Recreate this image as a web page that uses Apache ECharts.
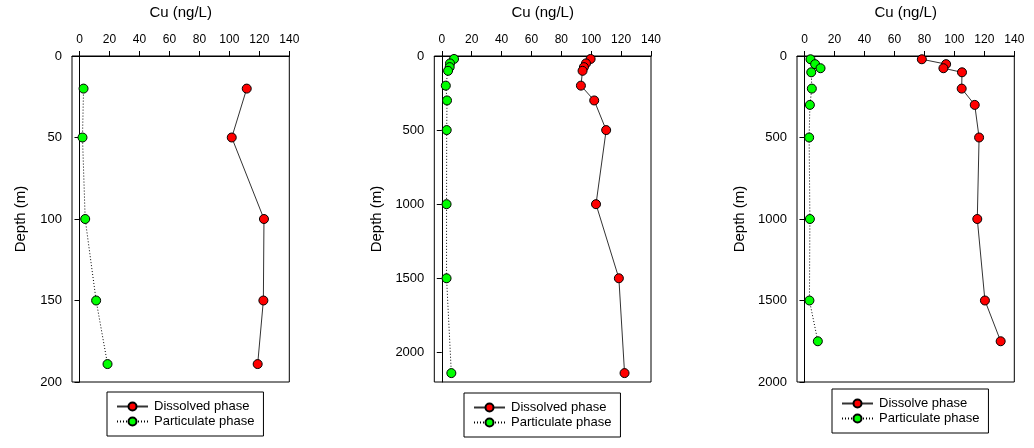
<!DOCTYPE html>
<html>
<head>
<meta charset="utf-8">
<script src="https://cdn.jsdelivr.net/npm/echarts@6/dist/echarts.min.js"></script>
<style>
html,body{margin:0;padding:0;background:#fff;}
#chart{width:1034px;height:448px;}
</style>
</head>
<body>
<div id="chart"></div>
<script>
// ---- Data ----
const xTickValues = [0, 20, 40, 60, 80, 100, 120, 140];
const xAxisTitle = 'Cu (ng/L)';
const yAxisTitle = 'Depth (m)';

// Panel 1
const depth1 = [20, 50, 100, 150, 189];
const dissolved1 = [111.6, 101.6, 123.1, 122.7, 118.9];
const particulate1 = [2.7, 2.0, 3.8, 11.1, 18.7];
const yTicks1 = [0, 50, 100, 150, 200];
const legend1 = ['Dissolved phase', 'Particulate phase'];

// Panel 2
const depth2 = [20, 50, 75, 100, 200, 300, 500, 1000, 1500, 2140];
const dissolved2 = [99.6, 96.5, 95.1, 94.2, 93.1, 102.0, 110.0, 103.2, 118.5, 122.3];
const particulate2 = [8.2, 5.5, 5.3, 4.2, 2.7, 3.5, 3.3, 3.2, 3.2, 6.4];
const yTicks2 = [0, 500, 1000, 1500, 2000];
const legend2 = ['Dissolved phase', 'Particulate phase'];

// Panel 3
const depth3 = [20, 50, 75, 100, 200, 300, 500, 1000, 1500, 1750];
const dissolved3 = [78.3, 94.5, 92.7, 105.1, 104.9, 113.6, 116.5, 115.3, 120.4, 130.9];
const particulate3 = [4.0, 7.1, 10.7, 4.5, 4.9, 3.6, 3.1, 3.6, 3.3, 8.9];
const yTicks3 = [0, 500, 1000, 1500, 2000];
const legend3 = ['Dissolve phase', 'Particulate phase'];

// ---- Layout / style ----
const FONT = "'Liberation Sans', Arial, sans-serif";
const panels = [
  {depth: depth1, dis: dissolved1, par: particulate1, yTicks: yTicks1, yMax: 200, names: legend1,
   grid: {left: 72, top: 56, width: 217.3, height: 326}, legend: {left: 107, top: 392}},
  {depth: depth2, dis: dissolved2, par: particulate2, yTicks: yTicks2, yMax: 2200, names: legend2,
   grid: {left: 434.3, top: 56, width: 216.7, height: 326}, legend: {left: 464, top: 393}},
  {depth: depth3, dis: dissolved3, par: particulate3, yTicks: yTicks3, yMax: 2000, names: legend3,
   grid: {left: 797, top: 56, width: 217.3, height: 326}, legend: {left: 832, top: 389}}
];

const option = {
  animation: false,
  backgroundColor: '#fff',
  textStyle: {fontFamily: FONT},
  grid: [], xAxis: [], yAxis: [], series: [], legend: []
};

panels.forEach((p, i) => {
  option.grid.push(Object.assign({show: true, borderColor: '#000', borderWidth: 1, backgroundColor: 'transparent'}, p.grid));
  option.xAxis.push({
    type: 'value', gridIndex: i, position: 'top', min: -5, max: 140,
    name: xAxisTitle, nameLocation: 'middle', nameGap: 36,
    nameTextStyle: {fontSize: 15, color: '#000', fontFamily: FONT},
    axisLine: {show: true, lineStyle: {color: '#000', width: 1}},
    axisTick: {show: true, inside: false, length: 5, customValues: xTickValues, lineStyle: {color: '#000'}},
    axisLabel: {fontSize: 12, color: '#000', margin: 10, customValues: xTickValues, fontFamily: FONT,
                formatter: v => String(v)},
    splitLine: {show: false}
  });
  option.yAxis.push({
    type: 'value', gridIndex: i, inverse: true, min: 0, max: p.yMax,
    name: yAxisTitle, nameLocation: 'middle', nameGap: i === 0 ? 44 : 50, nameRotate: 90,
    nameTextStyle: {fontSize: 15, color: '#000', fontFamily: FONT},
    axisLine: {show: true, lineStyle: {color: '#000', width: 1}},
    axisTick: {show: true, inside: false, length: 5, customValues: p.yTicks, lineStyle: {color: '#000'}},
    axisLabel: {fontSize: 13, color: '#000', margin: 10, customValues: p.yTicks, fontFamily: FONT,
                formatter: v => String(v)},
    splitLine: {show: false}
  });
  option.series.push({
    name: p.names[0], type: 'line', xAxisIndex: i, yAxisIndex: i,
    data: p.depth.map((d, k) => [p.dis[k], d]),
    symbol: 'circle', symbolSize: 9,
    lineStyle: {color: '#333', width: 1, type: 'solid'},
    itemStyle: {color: '#ff0000', borderColor: '#000', borderWidth: 1},
    z: 3
  });
  option.series.push({
    name: p.names[1], type: 'line', xAxisIndex: i, yAxisIndex: i,
    data: p.depth.map((d, k) => [p.par[k], d]),
    symbol: 'circle', symbolSize: 9,
    lineStyle: {color: '#000', width: 1, type: [1, 2]},
    itemStyle: {color: '#00ff00', borderColor: '#000', borderWidth: 1},
    z: 3
  });
  option.legend.push({
    data: p.names, orient: 'vertical', left: p.legend.left, top: p.legend.top,
    borderColor: '#000', borderWidth: 1, borderRadius: 0, padding: [8, 9, 8, 9],
    itemWidth: 31, itemHeight: 10, itemGap: 2,
    textStyle: {fontSize: 13, color: '#000', fontFamily: FONT, padding: [0, 0, 0, 1]},
    selectedMode: false
  });
});

const chart = echarts.init(document.getElementById('chart'), null, {renderer: 'canvas'});
chart.setOption(option);
</script>
</body>
</html>
